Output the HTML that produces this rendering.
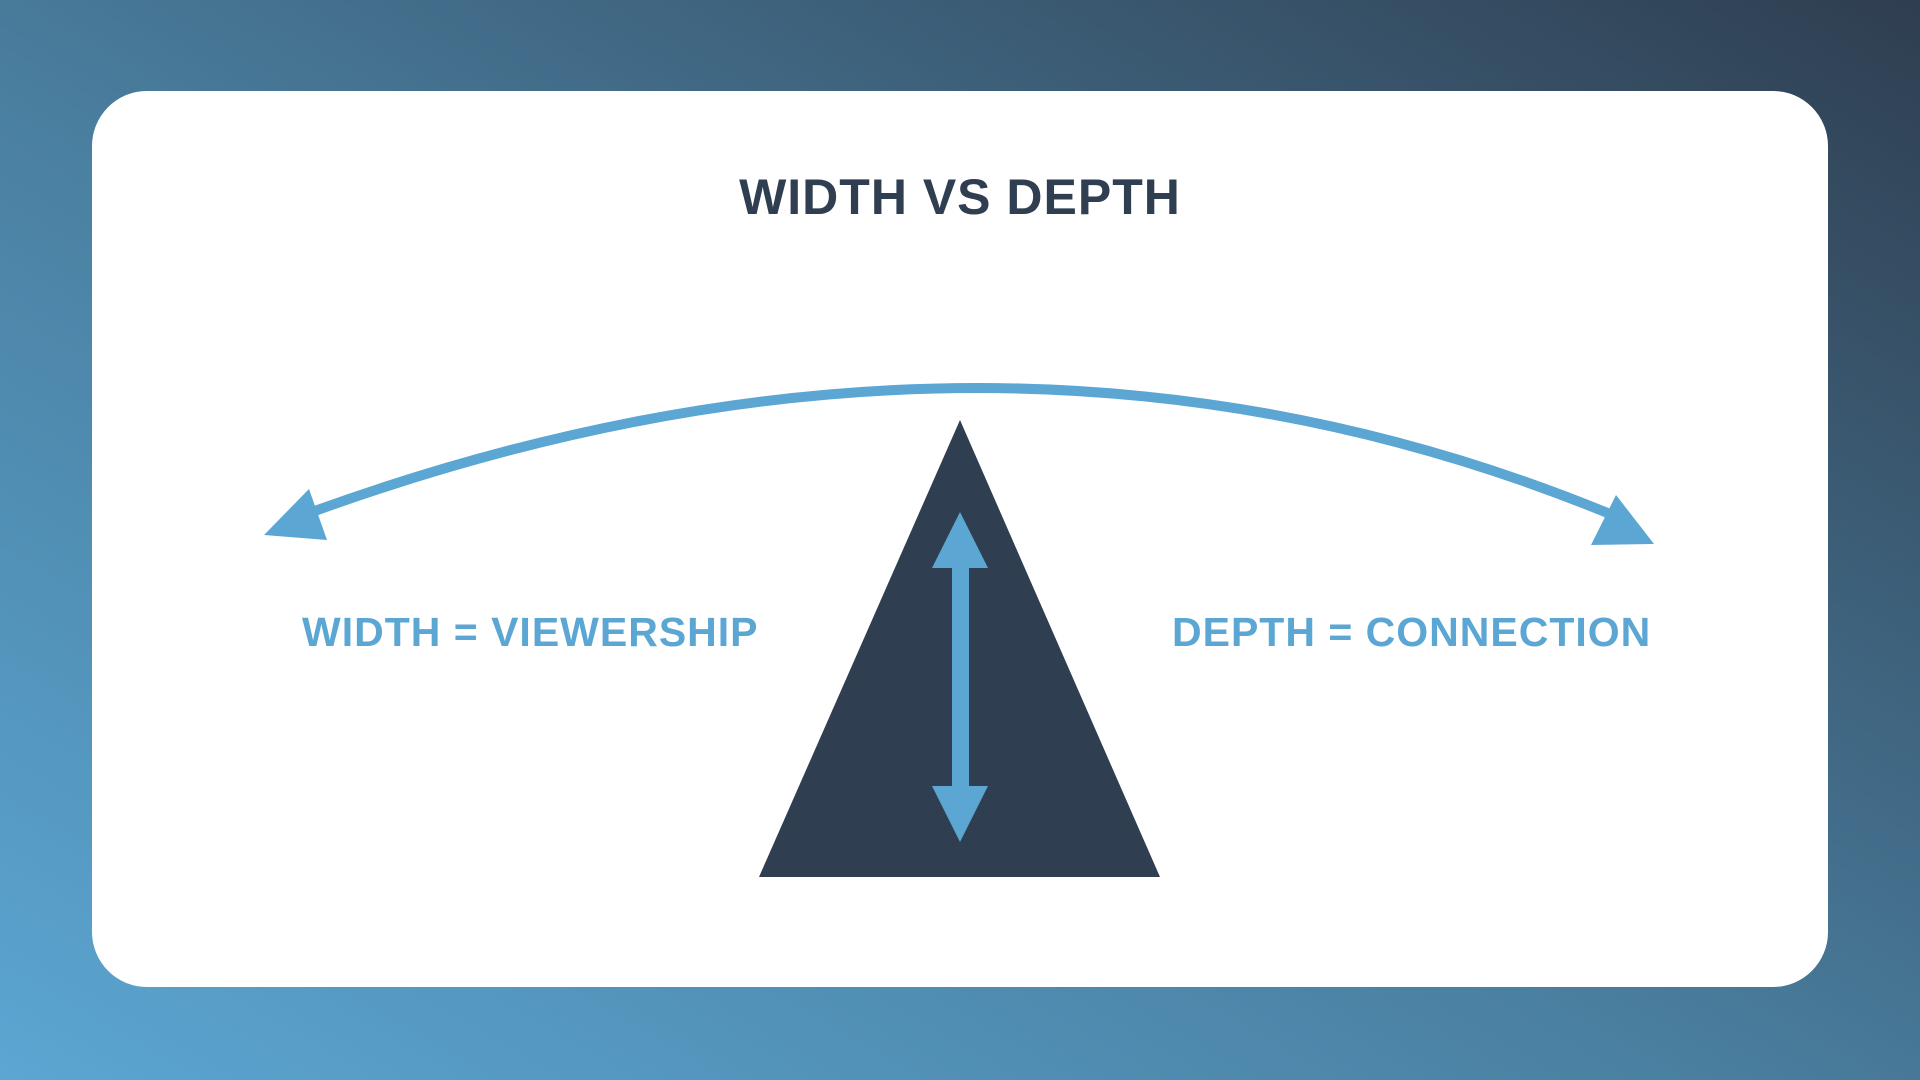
<!DOCTYPE html>
<html><head><style>
html,body{margin:0;padding:0;width:1920px;height:1080px;overflow:hidden}
body{background:linear-gradient(30deg,#5ba6d3 0%,#4a7fa0 45%,#2f3e50 100%);position:relative;font-family:"Liberation Sans",sans-serif}
.card{position:absolute;left:92px;top:91px;width:1736px;height:896px;background:#fff;border-radius:55px}
.t{position:absolute;font-weight:900;white-space:nowrap;letter-spacing:1px}
</style></head><body>
<div class="card"></div>
<div class="t" style="left:0;width:1920px;text-align:center;top:168px;font-size:50px;color:#2f3e50">WIDTH VS DEPTH</div>
<div class="t" style="left:302px;top:609px;font-size:41px;color:#5ba6d3">WIDTH = VIEWERSHIP</div>
<div class="t" style="left:1172px;top:609px;font-size:41px;color:#5ba6d3">DEPTH = CONNECTION</div>
<svg width="1920" height="1080" style="position:absolute;left:0;top:0">
<polygon points="960,420 759,877 1160,877" fill="#2f3e50"/>
<path d="M312,512 Q999,263 1610,514" fill="none" stroke="#5ba6d3" stroke-width="10"/>
<polygon points="264,535 309,489 327,540" fill="#5ba6d3"/>
<polygon points="1654,544 1616,495 1591,545" fill="#5ba6d3"/>
<rect x="952" y="565" width="17" height="224" fill="#5ba6d3"/>
<polygon points="960,512 932,568 988,568" fill="#5ba6d3"/>
<polygon points="960,842 932,786 988,786" fill="#5ba6d3"/>
</svg>
</body></html>
